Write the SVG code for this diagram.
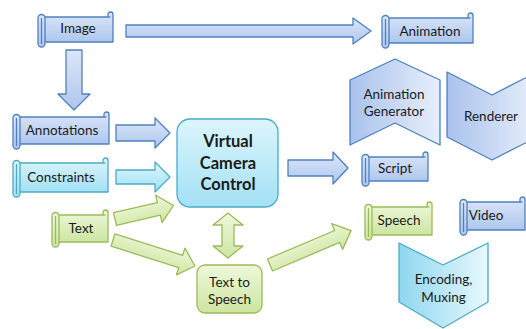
<svg xmlns="http://www.w3.org/2000/svg" width="526" height="329" viewBox="0 0 526 329">
<defs>
<linearGradient id="gBlue" x1="0" y1="0" x2="0" y2="1"><stop offset="0" stop-color="#dce7f8"/><stop offset="1" stop-color="#aec6ee"/></linearGradient>
<linearGradient id="gCyan" x1="0" y1="0" x2="0" y2="1"><stop offset="0" stop-color="#dcf5fd"/><stop offset="1" stop-color="#a3e1f5"/></linearGradient>
<linearGradient id="gGreen" x1="0" y1="0" x2="0" y2="1"><stop offset="0" stop-color="#eff8da"/><stop offset="1" stop-color="#cde5a2"/></linearGradient>
<linearGradient id="gBlueH" x1="0" y1="0" x2="1" y2="0"><stop offset="0" stop-color="#a9c2ec"/><stop offset="1" stop-color="#e8effb"/></linearGradient>
<linearGradient id="gCyanH" x1="0" y1="0" x2="1" y2="0"><stop offset="0" stop-color="#8fd7ef"/><stop offset="1" stop-color="#e8f8fd"/></linearGradient>
</defs>
<style>
text{font-family:Lato,"Open Sans","Liberation Sans",sans-serif;font-size:13.5px;fill:#1a1a1a;text-anchor:middle;dominant-baseline:central}
.b{fill:url(#gBlue);stroke:#4f81bd;stroke-width:1.3;stroke-linejoin:round}
.c{fill:url(#gCyan);stroke:#4bacc6;stroke-width:1.3;stroke-linejoin:round}
.g{fill:url(#gGreen);stroke:#9bbb59;stroke-width:1.3;stroke-linejoin:round}
.bh{fill:url(#gBlueH);stroke:#4f81bd;stroke-width:1.3;stroke-linejoin:round}
.ch{fill:url(#gCyanH);stroke:#4bacc6;stroke-width:1.3;stroke-linejoin:round}
.ln{fill:none}
.big{font-size:16.5px;font-weight:bold}
</style>

<g id="connectors">
<polygon class="b" points="126,25 353,25 353,18 371,31 353,44 353,37 126,37"/>
<polygon class="b" points="66,50 82,50 82,94 90,94 74,110 58,94 66,94"/>
<polygon class="b" points="116,125 155,125 155,118 170,133 155,148 155,141 116,141"/>
<polygon class="c" points="116,170 155,170 155,162 170,177 155,192 155,184 116,184"/>
<polygon class="b" points="288,160 333,160 333,152 348,168 333,184 333,176 288,176"/>
<polygon class="g" transform="translate(115,219) rotate(-13)" points="0,-6.5 45,-6.5 45,-14 60,0 45,14 45,6.5 0,6.5"/>
<polygon class="g" transform="translate(113,240) rotate(17.6)" points="0,-6.5 71,-6.5 71,-14 86,0 71,14 71,6.5 0,6.5"/>
<polygon class="g" transform="translate(270,265) rotate(-23)" points="0,-6.5 73,-6.5 73,-14 88,0 73,14 73,6.5 0,6.5"/>
<polygon class="g" points="228,213 243,225 234,225 234,246 243,246 228,258 213,246 222,246 222,225 213,225"/>
</g>

<g id="image" transform="translate(38,12)">
<path class="b" d="M5,5 H70 V2.5 A2.5 2.5 0 0 1 75,2.5 V30 H5 Z"/>
<path class="b ln" d="M70,5 H72.5"/>
<rect class="b" x="0" y="2.5" width="7" height="32.5" rx="3.5"/>
<path class="b ln" d="M3.5,6 V32"/>
<text x="40" y="15.5">Image</text>
</g>

<g id="animation" transform="translate(382,13)">
<path class="b" d="M5,5 H86 V2.5 A2.5 2.5 0 0 1 91,2.5 V30 H5 Z"/>
<path class="b ln" d="M86,5 H88.5"/>
<rect class="b" x="0" y="2.5" width="7" height="32.5" rx="3.5"/>
<path class="b ln" d="M3.5,6 V32"/>
<text x="48" y="18">Animation</text>
</g>

<g id="annotations" transform="translate(13,112)">
<path class="b" d="M5,5 H91 V2.5 A2.5 2.5 0 0 1 96,2.5 V32 H5 Z"/>
<path class="b ln" d="M91,5 H93.5"/>
<rect class="b" x="0" y="2.5" width="7" height="34.5" rx="3.5"/>
<path class="b ln" d="M3.5,6 V34"/>
<text x="49" y="18">Annotations</text>
</g>

<g id="constraints" transform="translate(13,158)">
<path class="c" d="M5,5 H90 V2.5 A2.5 2.5 0 0 1 95,2.5 V34 H5 Z"/>
<path class="c ln" d="M90,5 H92.5"/>
<rect class="c" x="0" y="2.5" width="7" height="36.5" rx="3.5"/>
<path class="c ln" d="M3.5,6 V36"/>
<text x="48" y="19">Constraints</text>
</g>

<g id="text" transform="translate(52,210)">
<path class="g" d="M5,5 H51 V2.5 A2.5 2.5 0 0 1 56,2.5 V32 H5 Z"/>
<path class="g ln" d="M51,5 H53.5"/>
<rect class="g" x="0" y="2.5" width="7" height="34.5" rx="3.5"/>
<path class="g ln" d="M3.5,6 V34"/>
<text x="29" y="18">Text</text>
</g>

<g id="script" transform="translate(362,152)">
<path class="b" d="M5,5 H61 V2.5 A2.5 2.5 0 0 1 66,2.5 V29 H5 Z"/>
<path class="b ln" d="M61,5 H63.5"/>
<rect class="b" x="0" y="2.5" width="7" height="31.5" rx="3.5"/>
<path class="b ln" d="M3.5,6 V31"/>
<text x="33" y="16">Script</text>
</g>

<g id="speech" transform="translate(365,202)">
<path class="g" d="M5,5 H62 V2.5 A2.5 2.5 0 0 1 67,2.5 V33 H5 Z"/>
<path class="g ln" d="M62,5 H64.5"/>
<rect class="g" x="0" y="2.5" width="7" height="35.5" rx="3.5"/>
<path class="g ln" d="M3.5,6 V35"/>
<text x="34" y="17.5">Speech</text>
</g>

<g id="video" transform="translate(460,197)">
<path class="b" d="M5,5 H60 V2.5 A2.5 2.5 0 0 1 65,2.5 V33 H5 Z"/>
<path class="b ln" d="M60,5 H62.5"/>
<rect class="b" x="0" y="2.5" width="7" height="35.5" rx="3.5"/>
<path class="b ln" d="M3.5,6 V35"/>
<text x="26" y="18">Video</text>
</g>

<g id="vcc">
<rect class="c" x="177" y="119" width="101" height="88" rx="13"/>
<text class="big" x="228" y="141">Virtual</text>
<text class="big" x="228" y="162.5">Camera</text>
<text class="big" x="228" y="184">Control</text>
</g>

<g id="tts">
<rect class="g" x="197" y="265" width="65" height="48" rx="8"/>
<text x="229.5" y="282">Text to</text>
<text x="229.5" y="299">Speech</text>
</g>

<g id="generator">
<polygon class="bh" points="350,80 395,59 440,80 440,145 395,123 350,145"/>
<text x="394" y="94">Animation</text>
<text x="394" y="111">Generator</text>
</g>

<g id="renderer">
<polygon class="bh" points="447,72 492,95 537,72 537,137 492,160 447,137"/>
<text x="491" y="116">Renderer</text>
</g>

<g id="encoding">
<polygon class="ch" points="399,243 443,265 488,243 488,302 443,328 399,302"/>
<text x="443.5" y="279">Encoding,</text>
<text x="443.5" y="297">Muxing</text>
</g>
</svg>
